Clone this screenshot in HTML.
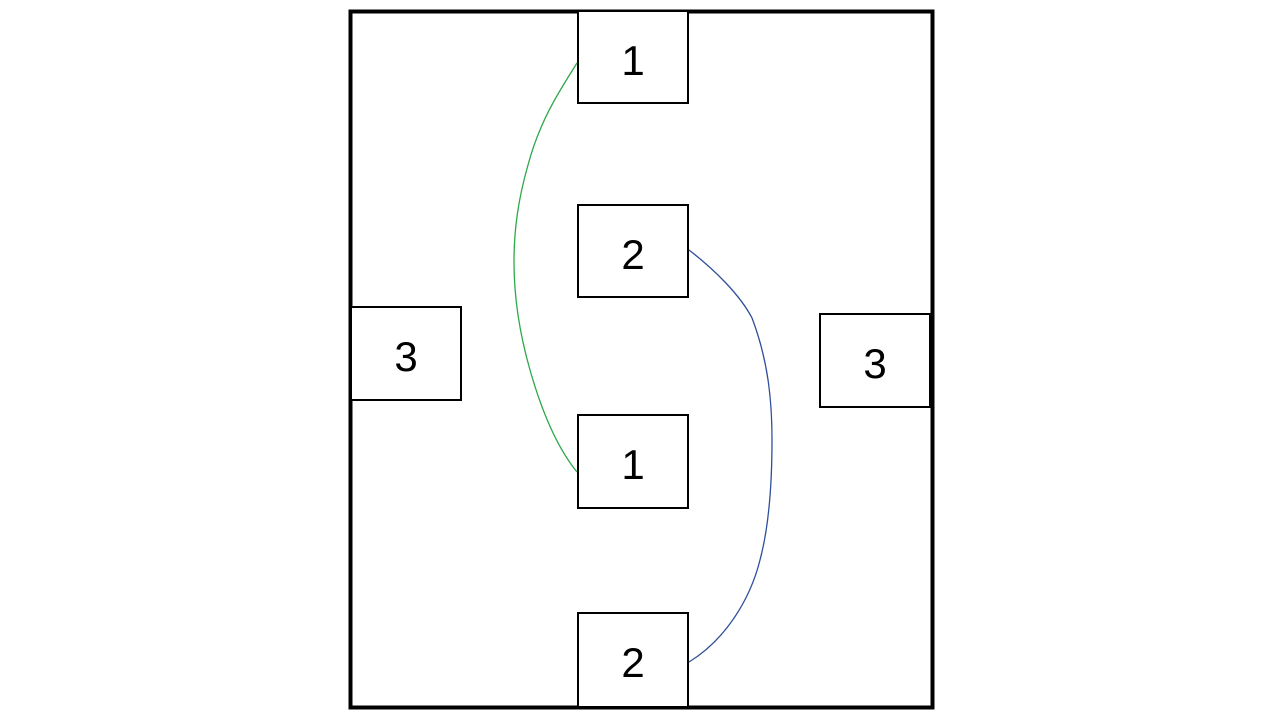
<!DOCTYPE html>
<html><head><meta charset="utf-8"><style>
html,body{margin:0;padding:0;background:#fff;width:1280px;height:720px;overflow:hidden}
</style></head><body>
<svg width="1280" height="720" viewBox="0 0 1280 720" xmlns="http://www.w3.org/2000/svg">
<rect x="0" y="0" width="1280" height="720" fill="#fff"/>
<rect x="350.5" y="11.5" width="582" height="696" fill="none" stroke="#000" stroke-width="4"/>
<g fill="#fff" stroke="#000" stroke-width="2">
<rect x="578" y="11" width="110" height="92"/>
<rect x="578" y="205" width="110" height="92"/>
<rect x="351" y="307" width="110" height="93"/>
<rect x="820" y="314" width="110" height="93"/>
<rect x="578" y="415" width="110" height="93"/>
<rect x="578" y="613" width="110" height="94"/>
</g>
<path d="M577,63 C560,90 540,120 528,165 C518,200 514,230 514,262 C514,300 520,335 530,370 C540,405 555,445 577,472" fill="none" stroke="#2ea84a" stroke-width="1.3"/>
<path d="M689,250 C715,270 740,295 752,318 C768,360 772,400 772,440 C772,490 768,530 760,560 C750,600 725,640 689,662" fill="none" stroke="#2f4f9a" stroke-width="1.3"/>
<g font-family="Liberation Sans, sans-serif" font-size="42" text-anchor="middle" fill="#000">
<text x="633" y="75">1</text>
<text x="633" y="269">2</text>
<text x="406" y="371">3</text>
<text x="875" y="378">3</text>
<text x="633" y="479">1</text>
<text x="633" y="677">2</text>
</g>
</svg>
</body></html>
